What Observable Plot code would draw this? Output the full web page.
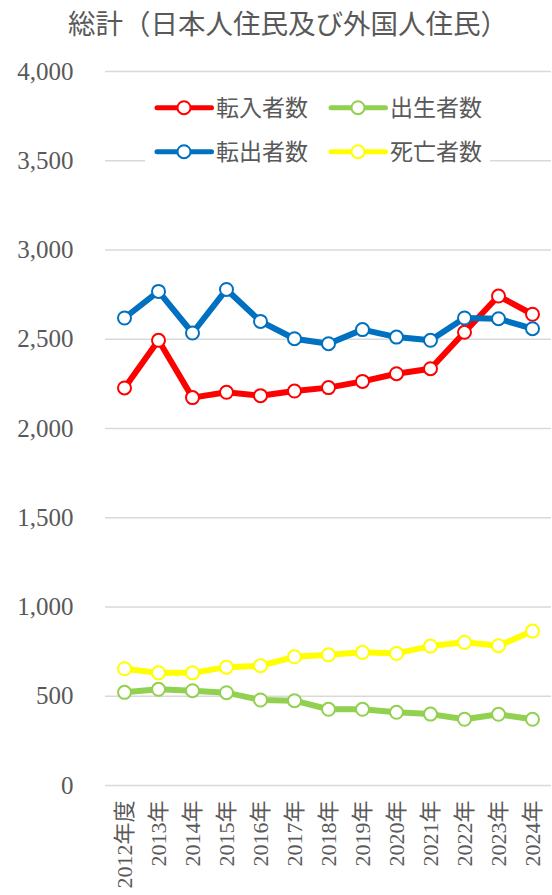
<!DOCTYPE html>
<html>
<head>
<meta charset="utf-8">
<script src="https://cdn.jsdelivr.net/npm/d3@7"></script>
<script src="https://cdn.jsdelivr.net/npm/@observablehq/plot@0.6"></script>
<style>
  html, body { margin: 0; padding: 0; background: #fff; }
  #wrap { position: relative; width: 552px; height: 895px; overflow: hidden; }
  #title { height: 45px; line-height: 44px; text-align: center; padding-left: 24px; box-sizing: border-box;
           font-family: "Noto Sans CJK JP", sans-serif; font-size: 27.5px; color: #595959; white-space: nowrap; }
  #legend { position: absolute; left: 145px; top: 88px; }
  g[aria-label="x-axis tick label"], g[aria-label="x-axis tick label"] text {
    font-family: "Liberation Serif", "Noto Sans CJK JP", serif !important; font-size: 22px !important; fill: #595959; }
  g[aria-label="y-axis tick label"], g[aria-label="y-axis tick label"] text {
    font-family: "Liberation Serif", serif !important; font-size: 25px !important; fill: #595959; }
</style>
</head>
<body>
<div id="wrap">
  <div id="title">総計（日本人住民及び外国人住民）</div>
  <div id="chart"></div>
  <svg id="legend" width="345" height="84"></svg>
</div>
<script>
const categories = ["2012年度","2013年","2014年","2015年","2016年","2017年","2018年","2019年","2020年","2021年","2022年","2023年","2024年"];
const tennyu  = [2227, 2494, 2173, 2203, 2184, 2210, 2229, 2264, 2307, 2335, 2539, 2742, 2640]; // 転入者数
const shussei = [522, 539, 531, 520, 479, 475, 427, 427, 410, 400, 371, 399, 371];             // 出生者数
const tenshutsu = [2619, 2768, 2535, 2779, 2600, 2503, 2475, 2554, 2512, 2494, 2619, 2615, 2559]; // 転出者数
const shibou  = [654, 631, 631, 663, 671, 721, 732, 746, 740, 781, 802, 783, 865];              // 死亡者数
const seriesNames = ["転入者数", "出生者数", "転出者数", "死亡者数"];
const seriesColors = ["#FF0000", "#92D050", "#0070C0", "#FFFF00"];
const yTicks = [0, 500, 1000, 1500, 2000, 2500, 3000, 3500, 4000];

const seriesValues = [tennyu, shussei, tenshutsu, shibou];
const rows = [];
seriesValues.forEach((vals, s) => vals.forEach((v, i) => rows.push({series: seriesNames[s], cat: categories[i], value: v})));

const marks = [Plot.ruleY(yTicks, {stroke: "#D9D9D9", strokeWidth: 1.3})];
seriesNames.forEach((name, s) => {
  const data = rows.filter(d => d.series === name);
  marks.push(Plot.line(data, {x: "cat", y: "value", stroke: seriesColors[s], strokeWidth: 6, strokeLinejoin: "round", strokeLinecap: "round"}));
  marks.push(Plot.dot(data, {x: "cat", y: "value", r: 6.5, fill: "#fff", stroke: seriesColors[s], strokeWidth: 2}));
});
marks.push(Plot.axisX({tickSize: 0, tickPadding: 15, tickRotate: -90, fontSize: 22, label: null}));
marks.push(Plot.axisY(yTicks, {tickSize: 0, tickPadding: 32, fontSize: 25, tickFormat: d3.format(","), label: null}));

const chart = Plot.plot({
  width: 552, height: 850,
  marginTop: 26, marginBottom: 110, marginLeft: 105, marginRight: 1,
  x: {type: "point", domain: categories, padding: 0.5},
  y: {domain: [0, 4000]},
  style: {background: "#fff", color: "#595959"},
  marks
});
document.getElementById("chart").appendChild(chart);

// legend
const lg = d3.select("#legend");
lg.append("rect").attr("width", 345).attr("height", 84).attr("fill", "#fff");
const pos = [[0, 19.7], [174, 19.7], [0, 63.7], [174, 63.7]];
seriesNames.forEach((name, s) => {
  const [ox, oy] = pos[s];
  const g = lg.append("g").attr("transform", `translate(${ox},${oy})`);
  g.append("line").attr("x1", 12).attr("x2", 66.5).attr("y1", 0).attr("y2", 0)
    .attr("stroke", seriesColors[s]).attr("stroke-width", 5).attr("stroke-linecap", "round");
  g.append("circle").attr("cx", 39).attr("cy", 0).attr("r", 6.5).attr("fill", "#fff")
    .attr("stroke", seriesColors[s]).attr("stroke-width", 2);
  g.append("text").attr("x", 71).attr("y", 0).attr("dy", "0.35em")
    .attr("font-family", "'Noto Sans CJK JP', sans-serif").attr("font-size", 23).attr("fill", "#595959")
    .text(name);
});
</script>
</body>
</html>
